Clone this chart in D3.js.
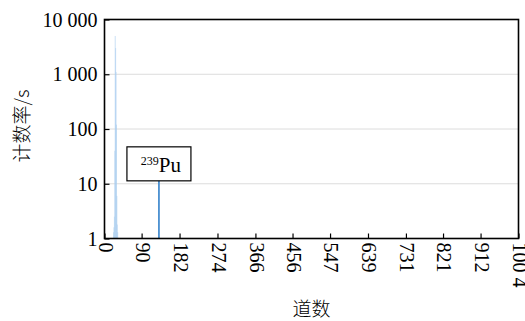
<!DOCTYPE html>
<html><head><meta charset="utf-8">
<script src="https://cdn.jsdelivr.net/npm/d3@7"></script>
<style>body{margin:0;background:#fff}svg{display:block}</style>
</head><body>
<svg id="c" width="525" height="321"></svg>
<script>
// Data
const xTickValues = [0, 90, 182, 274, 366, 456, 547, 639, 731, 821, 912, 1004];
const xTickLabels = ["0", "90", "182", "274", "366", "456", "547", "639", "731", "821", "912", "100 4"];
const yTickValues = [1, 10, 100, 1000, 10000];
const yTickLabels = ["1", "10", "100", "1 000", "10 000"];
const bgChannels = [22, 23, 24, 25, 26, 27, 28, 29, 30, 31, 32];
const bgCounts = [1.3, 1.6, 2.5, 40, 5000, 3000, 1100, 120, 6, 1.8, 1.3];
const puChannels = [132];
const puCounts = [11.3];
const peakLabel = "239Pu";

const svg = d3.select("#c");
const m = {l: 104.5, r: 518.5, t: 19.5, b: 238.5};
const x = d3.scaleLinear().domain([0, 1004]).range([m.l, m.r]);
const y = d3.scaleLog().domain([1, 10000]).range([m.b, m.t]);
const serif = "'Liberation Serif','Times New Roman',serif";
const cjk = "'Noto Sans CJK SC',sans-serif";

// grid
svg.append("g").selectAll("line").data(yTickValues.slice(1, 4)).join("line")
  .attr("x1", m.l).attr("x2", m.r).attr("y1", d => y(d)).attr("y2", d => y(d))
  .attr("stroke", "#dcdcdc").attr("stroke-width", 1);

// background spectrum (light blue)
svg.append("g").selectAll("line").data(bgChannels.map((c, i) => [c, bgCounts[i]])).join("line")
  .attr("x1", d => x(d[0])).attr("x2", d => x(d[0]))
  .attr("y1", y(1)).attr("y2", d => y(d[1]))
  .attr("stroke", "#a9cdee").attr("stroke-opacity", 0.6).attr("stroke-width", 1);

// Pu peak
svg.append("g").selectAll("line").data(puChannels.map((c, i) => [c, puCounts[i]])).join("line")
  .attr("x1", d => x(d[0])).attr("x2", d => x(d[0]))
  .attr("y1", y(1)).attr("y2", d => y(d[1]))
  .attr("stroke", "#4a8fd0").attr("stroke-width", 1.8);

// label box
const bx = x(puChannels[0]), by = y(puCounts[0]);
svg.append("rect").attr("x", bx - 32).attr("y", by - 34).attr("width", 64).attr("height", 34)
  .attr("fill", "#fff").attr("stroke", "#000").attr("stroke-width", 1.2);
const t = svg.append("text").attr("x", bx + 2).attr("y", by - 8.5).attr("text-anchor", "middle")
  .attr("font-family", serif).attr("font-size", 21);
t.append("tspan").attr("font-size", 12).attr("dy", -7).text(peakLabel.slice(0, 3));
t.append("tspan").attr("dy", 7).text(peakLabel.slice(3));

// axes
const xAxis = d3.axisBottom(x).tickValues(xTickValues).tickSize(-5).tickSizeOuter(0)
  .tickFormat((d, i) => xTickLabels[i]);
const gx = svg.append("g").attr("transform", `translate(0,${m.b})`).call(xAxis);
gx.selectAll("text").attr("font-family", serif).attr("font-size", 20).attr("fill", "#000")
  .attr("text-anchor", "start").attr("x", 0).attr("y", 0).attr("dy", "0.32em")
  .attr("transform", "translate(0,4) rotate(90)");

const yAxis = d3.axisLeft(y).tickValues(yTickValues).tickSize(-5).tickSizeOuter(0)
  .tickFormat((d, i) => yTickLabels[i]);
const gy = svg.append("g").attr("transform", `translate(${m.l},0)`).call(yAxis);
gy.selectAll("text").attr("font-family", serif).attr("font-size", 20).attr("fill", "#000")
  .attr("x", -7).attr("dy", "0.33em");

svg.selectAll(".domain").remove();
svg.selectAll(".tick line").attr("stroke", "#000").attr("stroke-width", 1.2);
// frame
svg.append("rect").attr("x", m.l).attr("y", m.t).attr("width", m.r - m.l).attr("height", m.b - m.t)
  .attr("fill", "none").attr("stroke", "#000").attr("stroke-width", 1.6);

// titles
svg.append("text").attr("x", (m.l + m.r) / 2).attr("y", 316).attr("text-anchor", "middle")
  .attr("font-family", cjk).attr("font-size", 19).attr("font-weight", 300).text("道数");
svg.append("text").attr("transform", "translate(29,126) rotate(-90)").attr("text-anchor", "middle")
  .attr("font-family", cjk).attr("font-size", 19).attr("font-weight", 300).text("计数率/s");
</script>
</body></html>
